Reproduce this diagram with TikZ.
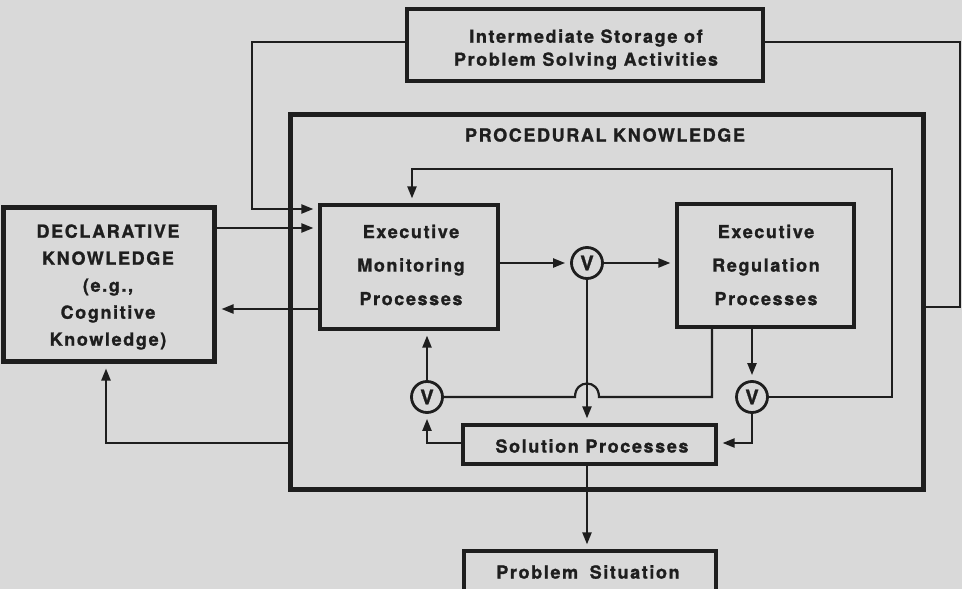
\documentclass[tikz,border=0pt]{standalone}
\usepackage{fontspec}
\usetikzlibrary{arrows.meta}
\newfontfamily\diagfont[LetterSpace=9, BoldFeatures={FakeBold=1.2}]{TeX Gyre Heros}
\newfontfamily\vfont[BoldFeatures={FakeBold=1.2}]{TeX Gyre Heros}
\definecolor{paper}{HTML}{D9D9D9}
\definecolor{ink}{HTML}{1E1E1E}
\begin{document}
\begin{tikzpicture}[x=1pt,y=-1pt,
  box/.style={draw=ink, line width=3.2pt, inner sep=0pt},
  thickbox/.style={draw=ink, line width=5pt, inner sep=0pt},
  txt/.style={font=\diagfont\bfseries\fontsize{18}{#1}\selectfont, text=ink, align=center, inner sep=0pt},
  txt/.default=20,
  vc/.style={circle, draw=ink, line width=2.8pt, minimum size=31pt, inner sep=0pt, font=\vfont\bfseries\fontsize{20}{22}\selectfont, text=ink},
  conn/.style={draw=ink, line width=2.2pt},
  arr/.style={conn, -{Triangle[length=12pt,width=9pt]}, shorten >=5pt},
]
\useasboundingbox (0,0) rectangle (962,589);
\clip (0,0) rectangle (962,589);
\fill[paper] (0,0) rectangle (962,589);

% boxes
\node[box, minimum width=356pt, minimum height=72pt] (ims) at (585,45) {};
\node[thickbox, minimum width=633pt, minimum height=375pt] (proc) at (606.5,301.5) {};
\node[thickbox, minimum width=211pt, minimum height=154pt] (decl) at (108.5,284) {};
\node[box, minimum width=178pt, minimum height=124pt] (emp) at (409,267) {};
\node[box, minimum width=177pt, minimum height=123pt] (erp) at (765.5,265.5) {};
\node[box, minimum width=253pt, minimum height=39pt] (sol) at (589.5,444.5) {};
\node[box, minimum width=252pt, minimum height=59pt] (ps) at (590,580.5) {};

% circles
\node[vc] (v1) at (587,263) {V};
\node[vc] (v2) at (427,397) {V};
\node[vc] (v3) at (752,397) {V};

% texts
\node[txt=23] (imsT) at (586,49.5) {Intermediate Storage of\\Problem Solving Activities};
\node[txt] (procT) at (605,135) {PROCEDURAL KNOWLEDGE};
\node[txt=27] (declT) at (108,287) {DECLARATIVE\\KNOWLEDGE\\(e.g.,\\Cognitive\\Knowledge)};
\node[txt=33.5] (empT) at (411,265) {Executive\\Monitoring\\Processes};
\node[txt=33.5] (erpT) at (766,265) {Executive\\Regulation\\Processes};
\node[txt] (solT) at (592,446) {Solution Processes};
\node[txt] (psT) at (588,572) {Problem\hspace{5pt} Situation};

% bend points
\coordinate (c1) at (252,42);
\coordinate (c2) at (252,209);
\coordinate (dy1) at (0,228);
\coordinate (dy2) at (0,309);
\coordinate (c3) at (106,443);
\coordinate (c4) at (960,42);
\coordinate (c5) at (960,307);
\coordinate (c6) at (892,397);
\coordinate (c7) at (892,169);
\coordinate (c8) at (412,169);
\coordinate (c9) at (752,443);
\coordinate (h1) at (575,397);
\coordinate (h2) at (599,397);
\coordinate (h1c) at (575,379);
\coordinate (h2c) at (599,379);
\coordinate (c10) at (712,397);
\coordinate (c11) at (427,443);

% connectors
\draw[arr] (ims.west |- c1) -- (c1) -- (c2) -- (emp.west |- c2);
\draw[arr] (decl.east |- dy1) -- (emp.west |- dy1);
\draw[arr] (emp.west |- dy2) -- (decl.east |- dy2);
\draw[arr] (proc.west |- c3) -- (c3) -- (decl.south -| c3);
\draw[conn] (ims.east |- c4) -- (c4) -- (c5) -- (proc.east |- c5);
\draw[arr] (v3.east) -- (c6) -- (c7) -- (c8) -- (emp.north -| c8);
\draw[arr] (emp.east |- v1) -- (v1.west);
\draw[arr] (v1.east) -- (erp.west |- v1);
\draw[arr] (v1.south) -- (sol.north -| v1);
\draw[arr] (erp.south -| v3) -- (v3.north);
\draw[arr] (v3.south) -- (c9) -- (sol.east |- c9);
\draw[conn] (v2.east) -- (h1) .. controls (h1c) and (h2c) .. (h2) -- (c10) -- (erp.south -| c10);
\draw[arr] (sol.west |- c11) -- (c11) -- (v2.south);
\draw[arr] (v2.north) -- (emp.south -| v2);
\draw[arr] (sol.south -| v1) -- (ps.north -| v1);
\end{tikzpicture}
\end{document}
